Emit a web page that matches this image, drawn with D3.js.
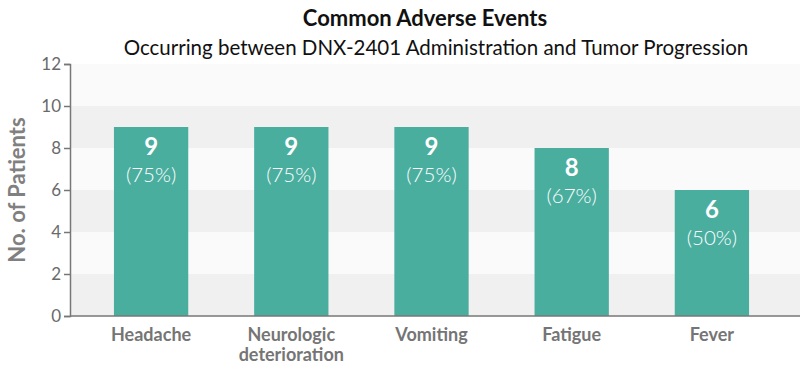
<!DOCTYPE html>
<html>
<head>
<meta charset="utf-8">
<script src="https://cdn.jsdelivr.net/npm/d3@7"></script>
<style>
  body { margin: 0; background: #fff; }
  svg { display: block; font-family: Lato, "Open Sans", sans-serif; }
</style>
</head>
<body>
<svg id="chart" width="807" height="374"></svg>
<script>
// data
var categories = ["Headache", "Neurologic deterioration", "Vomiting", "Fatigue", "Fever"];
var labelLines = [["Headache"], ["Neurologic", "deterioration"], ["Vomiting"], ["Fatigue"], ["Fever"]];
var patients = [9, 9, 9, 8, 6];
var percents = ["75%", "75%", "75%", "67%", "50%"];
var yTicks = [0, 2, 4, 6, 8, 10, 12];

var svg = d3.select("#chart");
var plotLeft = 70, plotRight = 800, plotTop = 64, plotBottom = 316;

var x = d3.scaleBand().domain(categories).range([81, 782]).paddingInner(0.47).paddingOuter(0.235);
var y = d3.scaleLinear().domain([0, 12]).range([plotBottom, plotTop]);

// alternating background bands
var bands = d3.range(0, 12, 2);
svg.append("g").selectAll("rect")
  .data(bands)
  .enter().append("rect")
  .attr("x", plotLeft)
  .attr("width", plotRight - plotLeft)
  .attr("y", function(d) { return y(d + 2); })
  .attr("height", function(d) { return y(d) - y(d + 2); })
  .attr("fill", function(d, i) { return i % 2 == 0 ? "#f0f0f0" : "#fafafa"; });

// titles
svg.append("text")
  .attr("x", 425).attr("y", 26)
  .attr("text-anchor", "middle")
  .style("font-size", "22px").style("font-weight", "bold").style("fill", "#111")
  .text("Common Adverse Events");
svg.append("text")
  .attr("x", 436).attr("y", 55)
  .attr("text-anchor", "middle")
  .style("font-size", "20.5px").style("fill", "#111")
  .text("Occurring between DNX-2401 Administration and Tumor Progression");

// bars
var bar = svg.append("g").selectAll("g")
  .data(categories)
  .enter().append("g");

bar.append("rect")
  .attr("x", function(d) { return x(d); })
  .attr("width", x.bandwidth())
  .attr("y", function(d, i) { return y(patients[i]); })
  .attr("height", function(d, i) { return y(0) - y(patients[i]); })
  .attr("fill", "#4aae9f");

bar.append("text")
  .attr("x", function(d) { return x(d) + x.bandwidth() / 2; })
  .attr("y", function(d, i) { return y(patients[i]) + 28; })
  .attr("text-anchor", "middle")
  .style("font-size", "24px").style("font-weight", "bold").style("fill", "#fff")
  .text(function(d, i) { return patients[i]; });

bar.append("text")
  .attr("x", function(d) { return x(d) + x.bandwidth() / 2; })
  .attr("y", function(d, i) { return y(patients[i]) + 55; })
  .attr("text-anchor", "middle")
  .style("font-size", "20.5px").style("font-weight", 300).style("fill", "#fff")
  .text(function(d, i) { return "(" + percents[i] + ")"; });

// y axis
var yAxis = svg.append("g")
  .attr("transform", "translate(" + plotLeft + ",0)")
  .call(d3.axisLeft(y).tickValues(yTicks).tickSize(6).tickPadding(3));
yAxis.select(".domain").attr("stroke", "#777").attr("stroke-width", 1.5);
yAxis.selectAll(".tick line").attr("stroke", "#777").attr("stroke-width", 1.5);
yAxis.selectAll(".tick text")
  .style("font-size", "17px").style("fill", "#6a6a6a")
  .style("font-family", "Lato, sans-serif");

// baseline
svg.append("line")
  .attr("x1", plotLeft).attr("x2", plotRight)
  .attr("y1", y(0)).attr("y2", y(0))
  .attr("stroke", "#777").attr("stroke-width", 1.5);

// category labels
var xl = svg.append("g").selectAll("text")
  .data(categories)
  .enter().append("text")
  .attr("x", function(d) { return x(d) + x.bandwidth() / 2; })
  .attr("y", 341)
  .attr("text-anchor", "middle")
  .style("font-size", "18px").style("font-weight", "bold").style("fill", "#757575");
xl.selectAll("tspan")
  .data(function(d, i) { return labelLines[i]; })
  .enter().append("tspan")
  .attr("x", function() { return d3.select(this.parentNode).attr("x"); })
  .attr("dy", function(d, j) { return j == 0 ? 0 : 20; })
  .text(function(d) { return d; });

// y label
svg.append("text")
  .attr("transform", "translate(25," + (plotTop + plotBottom) / 2 + ") rotate(-90)")
  .attr("text-anchor", "middle")
  .style("font-size", "22px").style("font-weight", "bold").style("fill", "#808080")
  .text("No. of Patients");
</script>
</body>
</html>
